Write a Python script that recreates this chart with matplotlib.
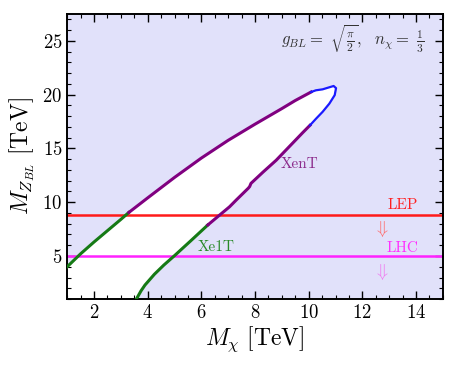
import matplotlib
matplotlib.use("Agg")
import matplotlib.pyplot as plt
from matplotlib.ticker import MultipleLocator

plt.rcParams['font.family'] = 'serif'
plt.rcParams['font.serif'] = ['cmr10']
plt.rcParams['mathtext.fontset'] = 'cm'
plt.rcParams['axes.formatter.use_mathtext'] = True
plt.rcParams['axes.unicode_minus'] = False

# contour of the allowed region, split by colour
xe1t_up_x = [1.0, 1.5, 2.0, 2.5, 3.0, 3.3]
xe1t_up_y = [4.0, 5.2, 6.3, 7.35, 8.4, 9.05]
xent_up_x = [3.3, 4.0, 5.0, 6.0, 7.0, 8.0, 9.0, 9.5, 10.09]
xent_up_y = [9.05, 10.4, 12.3, 14.1, 15.75, 17.25, 18.7, 19.45, 20.24]
tip_x = [10.09, 10.27, 10.52, 10.77, 10.93, 11.02, 10.97, 10.77, 10.52, 10.27, 10.05]
tip_y = [20.24, 20.4, 20.49, 20.68, 20.8, 20.6, 19.95, 19.16, 18.4, 17.75, 17.15]
xent_lo_x = [10.05, 9.78, 8.79, 8.3, 7.85, 7.8, 7.75, 7.3, 7.05, 6.68, 6.24]
xent_lo_y = [17.15, 16.47, 13.9, 12.8, 11.75, 11.45, 11.3, 10.2, 9.57, 8.8, 7.88]
xe1t_lo_x = [6.24, 5.6, 5.0, 4.6, 4.25, 3.9, 3.75, 3.58]
xe1t_lo_y = [7.88, 6.4, 5.03, 4.15, 3.3, 2.3, 1.75, 1.0]

lep_bound = 8.8
lhc_bound = 5.0

fig = plt.figure(figsize=(4.57, 3.66), dpi=100)
ax = fig.add_axes([0.147, 0.183, 0.822, 0.779])
ax.set_facecolor('#e1e1fa')

# white allowed region
poly_x = xe1t_up_x + xent_up_x + tip_x + xent_lo_x + xe1t_lo_x + [1.0]
poly_y = xe1t_up_y + xent_up_y + tip_y + xent_lo_y + xe1t_lo_y + [1.0]
ax.fill(poly_x, poly_y, color='white', lw=0, zorder=1)

ax.axhline(lep_bound, color='#ff1a1a', lw=1.8, zorder=2)
ax.axhline(lhc_bound, color='#ff22ff', lw=1.8, zorder=2)

ax.plot(xe1t_up_x, xe1t_up_y, color='#157a15', lw=2.2, zorder=3)
ax.plot(xe1t_lo_x, xe1t_lo_y, color='#157a15', lw=2.2, zorder=3)
ax.plot(xent_up_x, xent_up_y, color='#800080', lw=2.2, zorder=3)
ax.plot(xent_lo_x, xent_lo_y, color='#800080', lw=2.2, zorder=3)
ax.plot(tip_x, tip_y, color='#1a1aff', lw=1.6, zorder=3)

ax.text(13.5, 9.75, 'LEP', color='#ff2020', fontsize=11, ha='center', va='center')
ax.text(12.68, 7.55, r'$\Downarrow$', color='#ff6b6b', fontsize=13, ha='center', va='center')
ax.text(13.5, 5.75, 'LHC', color='#ff30ff', fontsize=11, ha='center', va='center')
ax.text(12.68, 3.55, r'$\Downarrow$', color='#f07af0', fontsize=13, ha='center', va='center')
ax.text(9.65, 13.5, 'XenT', color='#8b2a8b', fontsize=11, ha='center', va='center')
ax.text(6.57, 5.85, 'Xe1T', color='#2a8a2a', fontsize=11, ha='center', va='center')
ax.text(11.62, 25.3, r'$g_{BL}{=}\ \sqrt{\frac{\pi}{2}},\ \ n_\chi{=}\ \frac{1}{3}$',
        color='#333333', fontsize=12, ha='center', va='center')

ax.set_xlim(1, 15)
ax.set_ylim(1, 27.5)
ax.xaxis.set_major_locator(MultipleLocator(2))
ax.xaxis.set_minor_locator(MultipleLocator(0.5))
ax.yaxis.set_major_locator(MultipleLocator(5))
ax.yaxis.set_minor_locator(MultipleLocator(1))
ax.tick_params(which='both', direction='in', top=True, right=True, labelsize=13.5)
ax.tick_params(which='major', length=6, width=1)
ax.tick_params(which='minor', length=3, width=0.8)
for s in ax.spines.values():
    s.set_linewidth(1.4)

ax.set_xlabel(r'$M_\chi\ $[TeV]', fontsize=17, labelpad=2)
ax.set_ylabel(r'$M_{Z_{BL}}\ $[TeV]', fontsize=17, labelpad=4)

fig.savefig('out.png', dpi=100)
